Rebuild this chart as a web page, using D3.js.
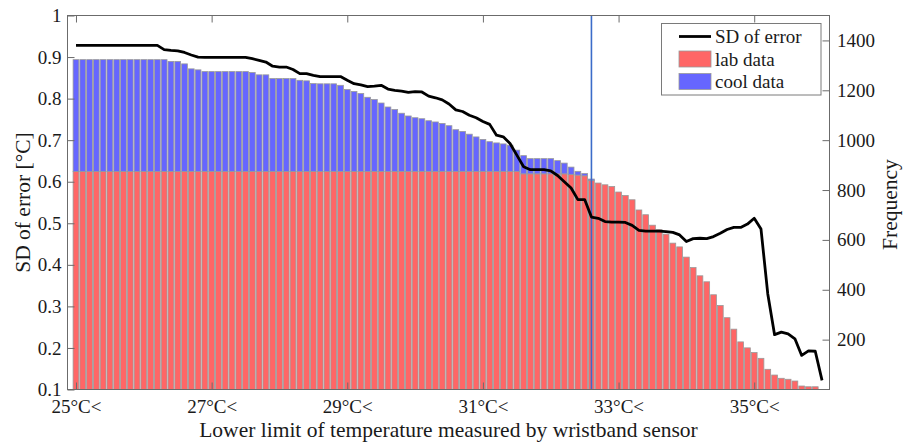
<!DOCTYPE html>
<html>
<head>
<meta charset="utf-8">
<script src="https://cdn.jsdelivr.net/npm/d3@7"></script>
<style>
  html, body { margin: 0; padding: 0; background: #fff; }
  svg { display: block; font-family: "Liberation Serif", "Times New Roman", serif; }
</style>
</head>
<body>
<svg id="chart" width="903" height="446"></svg>
<script>
// ---------------- data ----------------
const temps = [
  25.0,25.1,25.2,25.3,25.4,25.5,25.6,25.7,25.8,25.9,
  26.0,26.1,26.2,26.3,26.4,26.5,26.6,26.7,26.8,26.9,
  27.0,27.1,27.2,27.3,27.4,27.5,27.6,27.7,27.8,27.9,
  28.0,28.1,28.2,28.3,28.4,28.5,28.6,28.7,28.8,28.9,
  29.0,29.1,29.2,29.3,29.4,29.5,29.6,29.7,29.8,29.9,
  30.0,30.1,30.2,30.3,30.4,30.5,30.6,30.7,30.8,30.9,
  31.0,31.1,31.2,31.3,31.4,31.5,31.6,31.7,31.8,31.9,
  32.0,32.1,32.2,32.3,32.4,32.5,32.6,32.7,32.8,32.9,
  33.0,33.1,33.2,33.3,33.4,33.5,33.6,33.7,33.8,33.9,
  34.0,34.1,34.2,34.3,34.4,34.5,34.6,34.7,34.8,34.9,
  35.0,35.1,35.2,35.3,35.4,35.5,35.6,35.7,35.8,35.9,36.0
];
const labData = [
  874,874,874,874,874,874,874,874,874,874,
  874,874,874,874,874,874,874,874,874,874,
  874,874,874,874,874,874,874,874,874,874,
  874,874,874,874,874,874,874,874,874,874,
  874,874,874,874,874,874,874,874,874,874,
  874,874,874,874,874,874,874,874,874,874,
  874,874,874,874,874,874,865,865,865,865,
  865,865,865,862,860,857,839,828,821,814,
  792,778,761,720,701,659,641,623,587,572,
  531,489,456,432,380,337,288,242,191,167,
  148,125,81,58,45,41,34,14,11,11,0
];
const coolData = [
  449,449,449,449,449,449,449,449,449,449,
  449,449,449,449,442,442,432,412,408,401,
  401,401,401,401,401,401,397,388,388,373,
  373,373,373,366,364,353,352,352,352,346,
  329,321,313,298,289,275,259,249,234,223,
  216,212,204,199,193,184,168,161,150,139,
  129,120,115,111,106,86,73,61,61,61,
  61,53,43,30,15,9,5,0,0,0,
  0,0,0,0,0,0,0,0,0,0,
  0,0,0,0,0,0,0,0,0,0,
  0,0,0,0,0,0,0,0,0,0,0
];
const sdError = [
  0.928,0.928,0.928,0.928,0.928,0.928,0.928,0.928,0.928,0.928,
  0.928,0.928,0.928,0.918,0.916,0.915,0.911,0.905,0.900,0.899,
  0.899,0.899,0.899,0.899,0.899,0.899,0.896,0.892,0.888,0.878,
  0.876,0.876,0.870,0.860,0.860,0.856,0.853,0.853,0.853,0.853,
  0.844,0.836,0.833,0.829,0.830,0.832,0.823,0.820,0.818,0.815,
  0.817,0.816,0.806,0.802,0.797,0.787,0.773,0.769,0.760,0.754,
  0.745,0.738,0.712,0.708,0.692,0.664,0.636,0.629,0.629,0.629,
  0.626,0.615,0.600,0.585,0.557,0.557,0.515,0.512,0.504,0.503,
  0.503,0.502,0.495,0.483,0.481,0.481,0.481,0.480,0.478,0.472,
  0.456,0.463,0.464,0.463,0.468,0.476,0.485,0.490,0.490,0.498,
  0.512,0.486,0.330,0.232,0.238,0.234,0.222,0.182,0.193,0.192,0.122
];
const thresholdTemp = 32.6;
const xTickValues = [25, 27, 29, 31, 33, 35];
const xTickLabels = ["25°C<", "27°C<", "29°C<", "31°C<", "33°C<", "35°C<"];
const yLeftTicks = [0.1, 0.2, 0.3, 0.4, 0.5, 0.6, 0.7, 0.8, 0.9, 1];
const yRightTicks = [200, 400, 600, 800, 1000, 1200, 1400];
const legendLabels = ["SD of error", "lab data", "cool data"];

// ---------------- layout ----------------
const svg = d3.select("#chart");
const L = 67.5, R = 829.5, T = 15.5, B = 389.5;
const labColor = "#ff6666", coolColor = "#6666ff";
const axisColor = "#6b6b6b", textColor = "#1a1a1a";

const x = d3.scaleLinear().domain([24.875, 36.11]).range([L, R]);
const yL = d3.scaleLinear().domain([0.1, 1]).range([B, T]);
const yR = d3.scaleLinear().domain([0, 1500]).range([B, T]);
const step = x(25.1) - x(25.0);
const bw = step * 0.85;

// white plot background
svg.append("rect").attr("x", L).attr("y", T).attr("width", R - L).attr("height", B - T).attr("fill", "#fff");

// bars (stacked: lab at bottom, cool on top)
const gBars = svg.append("g");
temps.forEach((t, i) => {
  const lab = labData[i], cool = coolData[i];
  if (lab > 0) {
    gBars.append("rect")
      .attr("x", x(t) - bw / 2).attr("width", bw)
      .attr("y", yR(lab)).attr("height", yR(0) - yR(lab))
      .attr("fill", labColor).attr("stroke", "#9a9a9a").attr("stroke-width", 0.8);
  }
  if (cool > 0) {
    gBars.append("rect")
      .attr("x", x(t) - bw / 2).attr("width", bw)
      .attr("y", yR(lab + cool)).attr("height", yR(lab) - yR(lab + cool))
      .attr("fill", coolColor).attr("stroke", "#9a9a9a").attr("stroke-width", 0.8);
  }
});

// vertical threshold line
svg.append("line")
  .attr("x1", x(thresholdTemp)).attr("x2", x(thresholdTemp))
  .attr("y1", T).attr("y2", B)
  .attr("stroke", "#3b6cc9").attr("stroke-width", 1.6);

// SD line
svg.append("path")
  .datum(sdError.map((v, i) => [temps[i], v]))
  .attr("fill", "none").attr("stroke", "#000").attr("stroke-width", 2.8)
  .attr("stroke-linejoin", "round")
  .attr("d", d3.line().x(d => x(d[0])).y(d => yL(d[1])));

// axes
function styleAxis(g) {
  g.select(".domain").remove();
  g.selectAll(".tick line").attr("stroke", axisColor).attr("stroke-width", 1);
  g.selectAll(".tick text").attr("fill", textColor)
    .style("font-family", "'Liberation Serif', serif").style("font-size", "19px");
}
svg.append("g").attr("transform", `translate(0,${B})`)
  .call(d3.axisBottom(x).tickValues(xTickValues).tickSize(-7).tickSizeOuter(0).tickPadding(10)
    .tickFormat((d, i) => xTickLabels[i]))
  .call(styleAxis);
svg.append("g").attr("transform", `translate(0,${T})`)
  .call(d3.axisTop(x).tickValues(xTickValues).tickSize(-7).tickSizeOuter(0).tickFormat(""))
  .call(styleAxis);
svg.append("g").attr("transform", `translate(${L},0)`)
  .call(d3.axisLeft(yL).tickValues(yLeftTicks).tickSize(-7).tickSizeOuter(0).tickPadding(6)
    .tickFormat(d => d === 1 ? "1" : d3.format(".1f")(d)))
  .call(styleAxis);
svg.append("g").attr("transform", `translate(${R},0)`)
  .call(d3.axisRight(yR).tickValues(yRightTicks).tickSize(-7).tickSizeOuter(0).tickPadding(7.5)
    .tickFormat(d3.format("d")))
  .call(styleAxis);

// box
svg.append("rect").attr("x", L).attr("y", T).attr("width", R - L).attr("height", B - T)
  .attr("fill", "none").attr("stroke", axisColor).attr("stroke-width", 1);

// axis labels
svg.append("text").attr("x", (L + R) / 2).attr("y", 437)
  .attr("text-anchor", "middle").attr("fill", textColor).style("font-size", "21.5px")
  .text("Lower limit of temperature measured by wristband sensor");
svg.append("text").attr("transform", `translate(29.5,${(T + B) / 2}) rotate(-90)`)
  .attr("text-anchor", "middle").attr("fill", textColor).style("font-size", "21.5px")
  .text("SD of error [°C]");
svg.append("text").attr("transform", `translate(896.5,${(T + B) / 2 + 2}) rotate(-90)`)
  .attr("text-anchor", "middle").attr("fill", textColor).style("font-size", "21.5px")
  .text("Frequency");

// legend
const lg = svg.append("g");
lg.append("rect").attr("x", 661.5).attr("y", 23.5).attr("width", 159.5).attr("height", 71.5)
  .attr("fill", "#fff").attr("stroke", "#7a7a7a").attr("stroke-width", 1);
const rowY = [36.5, 59, 81.5];
lg.append("line").attr("x1", 679).attr("x2", 711).attr("y1", rowY[0]).attr("y2", rowY[0])
  .attr("stroke", "#000").attr("stroke-width", 2.8);
[labColor, coolColor].forEach((c, k) => {
  lg.append("rect").attr("x", 679).attr("y", rowY[k + 1] - 8).attr("width", 32).attr("height", 16)
    .attr("fill", c).attr("stroke", "#9a9a9a").attr("stroke-width", 0.8);
});
legendLabels.forEach((s, k) => {
  lg.append("text").attr("x", 715).attr("y", rowY[k] + 6.5)
    .attr("fill", textColor).style("font-size", "19px").text(s);
});
</script>
</body>
</html>
